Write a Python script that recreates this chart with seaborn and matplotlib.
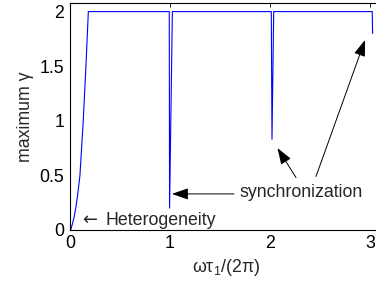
import pandas as pd
import matplotlib
matplotlib.use('Agg')
import matplotlib.pyplot as plt
import seaborn as sns

# curve values
freq = [0.0, 0.007, 0.02, 0.04, 0.06, 0.08, 0.10, 0.133, 0.16, 0.184,
        0.993, 0.996, 1.024,
        2.013, 2.02, 2.037,
        3.022, 3.026]
gamma_max = [0.0, 0.0, 0.04, 0.11, 0.21, 0.34, 0.5, 1.0, 1.5, 2.0,
             2.0, 0.2, 2.0,
             2.0, 0.83, 2.0,
             2.0, 1.8]

xticks = [0, 1, 2, 3]
yticks = [0, 0.5, 1, 1.5, 2]
yticklabels = ['0', '0.5', '1', '1.5', '2']

df = pd.DataFrame({'freq': freq, 'gamma': gamma_max})

sns.set_style('white')
plt.rcParams['font.family'] = ['Liberation Sans', 'DejaVu Sans']
plt.rcParams['mathtext.fontset'] = 'custom'
plt.rcParams['mathtext.rm'] = 'Liberation Sans'

fig = plt.figure(figsize=(3.76, 2.86), dpi=100)
ax = fig.add_axes([0.186, 0.196, 0.83, 0.794])
sns.lineplot(data=df, x='freq', y='gamma', ax=ax, color='#0000ff',
             linewidth=0.8, sort=False, estimator=None)

fs = 12.8
ax.set_xlim(0, 3.12)
ax.set_ylim(0, 2.08)
ax.set_xticks(xticks)
ax.set_yticks(yticks)
ax.set_yticklabels(yticklabels)
ax.tick_params(direction='in', length=3, width=0.6, labelsize=fs,
               top=True, right=True, pad=4, colors='black')
for s in ax.spines.values():
    s.set_color('black')
    s.set_linewidth(0.8)

ax.set_xlabel(r'$\mathregular{\omega\tau_1/(2\pi)}$', fontsize=fs, labelpad=3)
ax.set_ylabel('maximum γ', fontsize=fs, labelpad=4)

ax.text(0.125, 0.09, '←', fontsize=fs, family=['DejaVu Sans'],
        va='center', ha='left')
ax.text(0.36, 0.09, 'Heterogeneity', fontsize=fs, va='center', ha='left')
ax.text(1.70, 0.34, 'synchronization', fontsize=fs, va='center', ha='left')

arrow = dict(arrowstyle='-|>,head_length=1.0,head_width=0.35', color='black',
             lw=0.7, shrinkA=0, shrinkB=0)
ax.annotate('', xy=(1.02, 0.33), xytext=(1.64, 0.33), arrowprops=arrow)
ax.annotate('', xy=(2.075, 0.75), xytext=(2.26, 0.48), arrowprops=arrow)
ax.annotate('', xy=(2.95, 1.74), xytext=(2.46, 0.49), arrowprops=arrow)

fig.savefig('out.png', dpi=100)
